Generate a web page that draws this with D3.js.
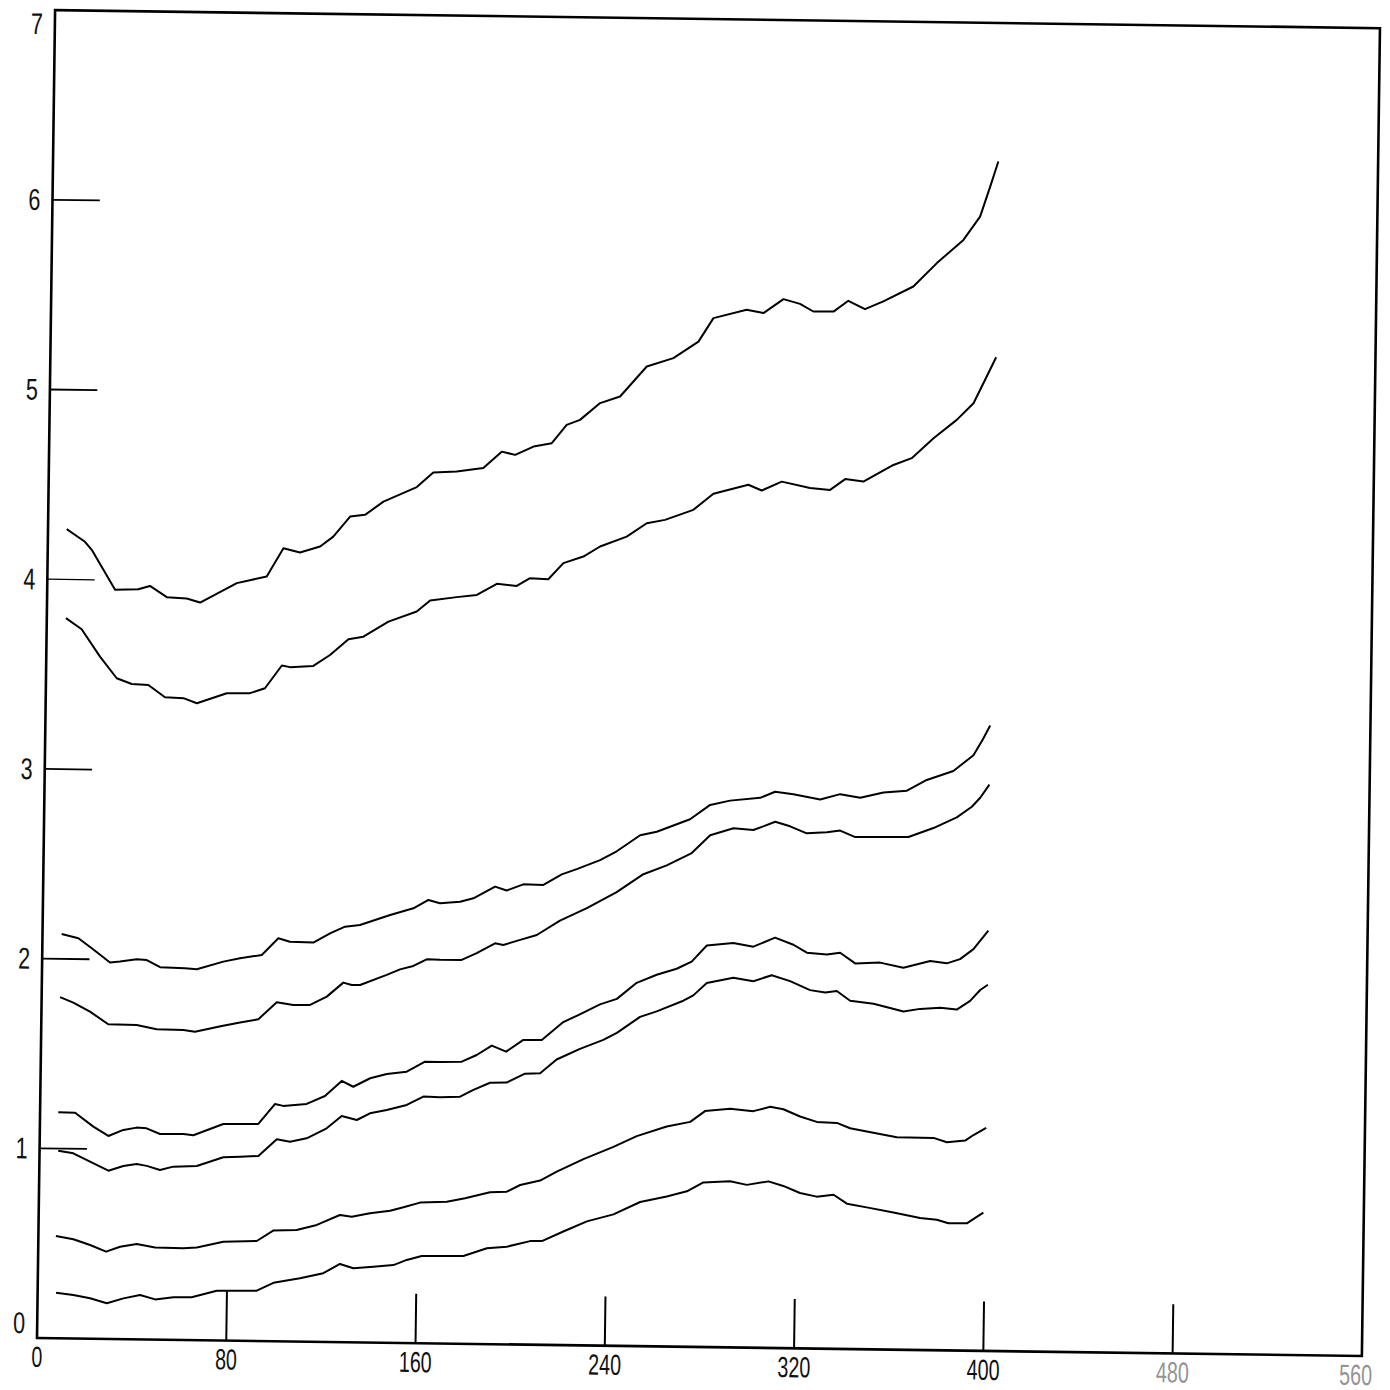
<!DOCTYPE html>
<html>
<head>
<meta charset="utf-8">
<script src="https://cdn.jsdelivr.net/npm/d3@7"></script>
<style>
  html, body { margin: 0; padding: 0; background: #ffffff; }
  svg { display: block; }
</style>
</head>
<body>
<svg id="chart" width="1390" height="1390"></svg>
<script>
// ---- data ----
const xTickValues = [80, 160, 240, 320, 400, 480];
const xTickLabels = [0, 80, 160, 240, 320, 400, 480, 560];
const yTickValues = [1, 2, 3, 4, 5, 6];
const yTickLabels = [0, 1, 2, 3, 4, 5, 6, 7];

const series1 = [[7.9,4.265],[15.7,4.20],[18.6,4.158],[28.7,3.949],[38.5,3.954],[43.4,3.972],[50.6,3.914],[59.0,3.908],[64.7,3.888],[80.1,3.993],[92.7,4.030],[99.6,4.180],[106.6,4.159],[115.1,4.192],[120.6,4.245],[127.6,4.352],[133.9,4.362],[141.6,4.433],[155.6,4.512],[162.5,4.590],[172.4,4.597],[183.6,4.617],[191.3,4.705],[197.0,4.689],[204.7,4.734],[212.4,4.753],[218.6,4.851],[224.2,4.878],[232.6,4.968],[241.0,5.004],[252.1,5.164],[263.3,5.210],[273.8,5.299],[280.0,5.424],[294.0,5.470],[301.1,5.454],[309.5,5.529],[316.5,5.505],[322.2,5.466],[330.7,5.467],[336.9,5.525],[344.0,5.482],[351.7,5.524],[364.3,5.605],[374.1,5.730],[385.2,5.854],[392.1,5.978],[396.2,6.137],[399.5,6.270]];

const series2 = [[8.1,3.796],[14.8,3.739],[22.7,3.596],[29.9,3.483],[36.3,3.454],[43.3,3.450],[50.4,3.386],[58.2,3.383],[63.9,3.357],[76.5,3.412],[86.3,3.414],[92.6,3.441],[99.6,3.562],[103.1,3.554],[112.9,3.562],[119.9,3.621],[127.6,3.705],[133.9,3.720],[144.4,3.801],[156.3,3.856],[161.9,3.915],[173.1,3.935],[181.6,3.948],[190.0,4.008],[198.4,3.998],[204.0,4.040],[211.7,4.036],[218.0,4.122],[226.4,4.158],[233.4,4.212],[244.6,4.266],[253.0,4.338],[260.7,4.357],[272.6,4.412],[281.0,4.498],[295.7,4.548],[301.4,4.519],[309.8,4.567],[321.8,4.535],[330.3,4.527],[336.6,4.585],[344.3,4.573],[356.9,4.663],[364.6,4.700],[373.7,4.807],[383.4,4.905],[390.4,4.994],[393.8,5.083],[399.7,5.238]];

const series3 = [[8.1,2.131],[15.2,2.110],[20.9,2.058],[28.7,1.984],[32.9,1.990],[40.0,2.003],[44.2,2.000],[49.9,1.963],[60.4,1.959],[65.4,1.955],[76.6,1.997],[83.6,2.016],[92.8,2.035],[99.7,2.124],[104.6,2.107],[114.5,2.104],[121.5,2.154],[127.8,2.190],[134.1,2.200],[146.8,2.255],[156.6,2.292],[162.9,2.337],[167.8,2.320],[176.3,2.330],[181.9,2.349],[191.0,2.412],[195.9,2.392],[202.9,2.426],[211.4,2.424],[219.1,2.481],[225.4,2.510],[235.2,2.559],[242.2,2.607],[252.0,2.693],[259.0,2.713],[273.0,2.781],[281.4,2.858],[289.8,2.882],[302.5,2.899],[308.8,2.932],[316.5,2.920],[327.9,2.894],[336.3,2.924],[344.8,2.906],[354.6,2.936],[364.5,2.947],[372.8,3.005],[384.0,3.054],[392.4,3.139],[396.3,3.224],[399.3,3.297]];

const series4 = [[7.8,1.798],[13.4,1.770],[20.5,1.724],[28.3,1.659],[40.3,1.657],[48.8,1.636],[60.1,1.634],[65.0,1.626],[76.3,1.658],[84.0,1.677],[91.7,1.696],[99.4,1.787],[106.4,1.774],[113.5,1.775],[120.5,1.820],[127.4,1.895],[131.0,1.883],[134.5,1.884],[145.7,1.939],[151.3,1.969],[156.9,1.988],[162.5,2.024],[168.2,2.022],[177.3,2.023],[183.6,2.060],[191.3,2.113],[194.8,2.105],[201.9,2.133],[208.9,2.160],[218.6,2.237],[229.9,2.305],[242.4,2.392],[253.6,2.488],[263.4,2.536],[273.9,2.603],[281.6,2.698],[291.4,2.737],[299.8,2.729],[304.0,2.749],[309.0,2.774],[315.3,2.751],[322.4,2.715],[330.9,2.722],[336.5,2.732],[342.9,2.699],[350.6,2.700],[359.0,2.702],[365.4,2.703],[375.9,2.752],[385.7,2.810],[392.0,2.867],[395.5,2.915],[399.3,2.985]];

const series5 = [[7.7,1.191],[14.8,1.190],[22.6,1.118],[29.0,1.070],[35.3,1.103],[40.9,1.116],[45.1,1.113],[50.8,1.084],[60.7,1.086],[64.9,1.080],[77.5,1.141],[84.6,1.143],[92.3,1.144],[99.2,1.250],[102.7,1.241],[112.6,1.253],[120.3,1.296],[127.3,1.377],[132.2,1.347],[139.3,1.393],[146.3,1.417],[154.7,1.430],[162.4,1.484],[168.8,1.484],[177.9,1.487],[184.2,1.523],[190.5,1.574],[196.6,1.543],[203.8,1.606],[211.6,1.607],[220.6,1.703],[226.9,1.741],[236.0,1.799],[243.1,1.829],[251.4,1.915],[259.8,1.959],[268.2,1.992],[274.5,2.031],[280.8,2.117],[292.0,2.132],[300.5,2.114],[309.6,2.163],[317.4,2.127],[323.1,2.086],[331.6,2.078],[337.2,2.088],[343.6,2.033],[354.1,2.039],[364.0,2.014],[375.3,2.051],[382.3,2.040],[387.9,2.063],[393.5,2.117],[399.7,2.215]];

const series6 = [[7.9,0.989],[14.3,0.976],[21.4,0.933],[29.2,0.887],[35.5,0.913],[41.1,0.924],[45.4,0.915],[51.0,0.894],[56.6,0.913],[66.5,0.918],[77.7,0.966],[84.8,0.970],[92.5,0.975],[100.2,1.065],[105.8,1.053],[112.8,1.072],[121.2,1.126],[127.5,1.192],[133.9,1.172],[139.4,1.208],[146.5,1.227],[154.9,1.255],[161.9,1.300],[168.9,1.298],[177.4,1.302],[183.0,1.339],[190.0,1.378],[197.0,1.380],[204.7,1.428],[211.1,1.432],[218.0,1.505],[227.8,1.563],[237.6,1.612],[243.3,1.650],[253.0,1.736],[260.0,1.766],[271.2,1.824],[275.4,1.853],[281.0,1.919],[292.2,1.949],[300.7,1.932],[308.4,1.965],[316.2,1.935],[324.7,1.889],[331.1,1.877],[336.0,1.886],[341.7,1.836],[351.6,1.822],[358.6,1.801],[364.3,1.783],[371.3,1.798],[379.8,1.805],[386.8,1.797],[392.4,1.844],[396.6,1.902],[399.8,1.930]];

const series7 = [[7.4,0.539],[14.8,0.523],[21.9,0.494],[28.7,0.460],[34.6,0.487],[41.6,0.503],[49.4,0.485],[61.3,0.483],[67.0,0.488],[78.2,0.521],[92.3,0.527],[99.2,0.583],[109.1,0.588],[117.6,0.616],[127.3,0.670],[132.3,0.662],[140.0,0.681],[148.5,0.696],[154.1,0.715],[161.1,0.741],[172.4,0.748],[180.1,0.767],[190.6,0.801],[197.7,0.805],[203.3,0.841],[211.7,0.866],[218.7,0.914],[229.9,0.982],[242.5,1.049],[252.3,1.107],[264.9,1.160],[274.8,1.186],[281.0,1.244],[291.6,1.258],[301.4,1.247],[308.5,1.271],[314.1,1.259],[321.2,1.222],[328.3,1.195],[336.8,1.191],[342.4,1.164],[349.5,1.148],[362.2,1.120],[377.7,1.119],[383.4,1.097],[391.1,1.107],[394.6,1.137],[399.9,1.176]];

const series8 = [[7.8,0.240],[15.1,0.229],[22.2,0.213],[29.3,0.188],[36.3,0.215],[43.3,0.234],[49.7,0.212],[57.4,0.224],[65.1,0.226],[75.7,0.262],[92.6,0.265],[99.6,0.308],[110.8,0.334],[120.6,0.362],[127.6,0.412],[133.3,0.390],[141.7,0.400],[150.2,0.410],[155.8,0.438],[162.1,0.460],[179.7,0.463],[189.6,0.505],[198.0,0.515],[207.8,0.546],[212.8,0.547],[221.8,0.599],[231.7,0.654],[242.9,0.693],[254.1,0.760],[265.3,0.791],[273.8,0.820],[280.7,0.868],[292.0,0.876],[299.1,0.858],[308.2,0.878],[314.5,0.855],[321.6,0.819],[328.7,0.801],[335.8,0.812],[341.5,0.766],[349.9,0.748],[361.2,0.723],[372.5,0.696],[379.6,0.688],[384.5,0.670],[392.3,0.671],[395.8,0.700],[399.2,0.729]];

const allSeries = [series1, series2, series3, series4, series5, series6, series7, series8];

// ---- drawing ----
const svg = d3.select("#chart");
svg.append("rect").attr("width", 1390).attr("height", 1390).attr("fill", "#ffffff");

const x = d3.scaleLinear().domain([0, 560]).range([37, 1362]);
const y = d3.scaleLinear().domain([0, 7]).range([1338, 10]);

// the scanned plot is slightly skewed: rotate the whole frame about the origin
const g = svg.append("g").attr("transform", "rotate(0.78," + x(0) + "," + y(0) + ")");

// frame
g.append("rect")
  .attr("x", x(0)).attr("y", y(7))
  .attr("width", x(560) - x(0)).attr("height", y(0) - y(7))
  .attr("fill", "none").attr("stroke", "#000").attr("stroke-width", 2.6);

// y ticks (inward horizontal lines)
g.selectAll("line.ytick").data(yTickValues).enter().append("line")
  .attr("class", "ytick")
  .attr("x1", x(0)).attr("x2", x(20))
  .attr("y1", d => y(d)).attr("y2", d => y(d))
  .attr("stroke", "#000").attr("stroke-width", d => d === 4 ? 1.3 : 1.8);

// x ticks (inward vertical lines)
g.selectAll("line.xtick").data(xTickValues).enter().append("line")
  .attr("class", "xtick")
  .attr("x1", d => x(d)).attr("x2", d => x(d))
  .attr("y1", y(0)).attr("y2", y(0.26))
  .attr("stroke", "#000").attr("stroke-width", 2);

const font = "'Liberation Sans', Arimo, sans-serif";

// y labels
g.selectAll("text.ylab").data(yTickLabels).enter().append("text")
  .attr("class", "ylab")
  .attr("transform", d => {
    let yy = y(d);
    if (d === 0) yy -= 15;
    if (d === 7) yy += 14;
    return "translate(" + (x(0) - 18) + "," + yy + ") scale(0.72,1)";
  })
  .attr("text-anchor", "middle")
  .attr("dominant-baseline", "central")
  .attr("font-family", font)
  .attr("font-size", 30)
  .attr("fill", "#111")
  .text(d => d);

// x labels
g.selectAll("text.xlab").data(xTickLabels).enter().append("text")
  .attr("class", "xlab")
  .attr("transform", d => "translate(" + (d === 560 ? x(d) - 6 : x(d)) + "," + (y(0) + 19) + ") scale(0.68,1)")
  .attr("text-anchor", "middle")
  .attr("dominant-baseline", "central")
  .attr("font-family", font)
  .attr("font-size", 29)
  .attr("fill", d => d >= 480 ? "#666" : "#111")
  .attr("opacity", d => d >= 480 ? 0.7 : 1)
  .text(d => d);

// curves
const line = d3.line().x(d => x(d[0])).y(d => y(d[1]));
g.selectAll("path.curve").data(allSeries).enter().append("path")
  .attr("class", "curve")
  .attr("d", line)
  .attr("fill", "none")
  .attr("stroke", "#000")
  .attr("stroke-width", 2)
  .attr("stroke-linejoin", "round");
</script>
</body>
</html>
